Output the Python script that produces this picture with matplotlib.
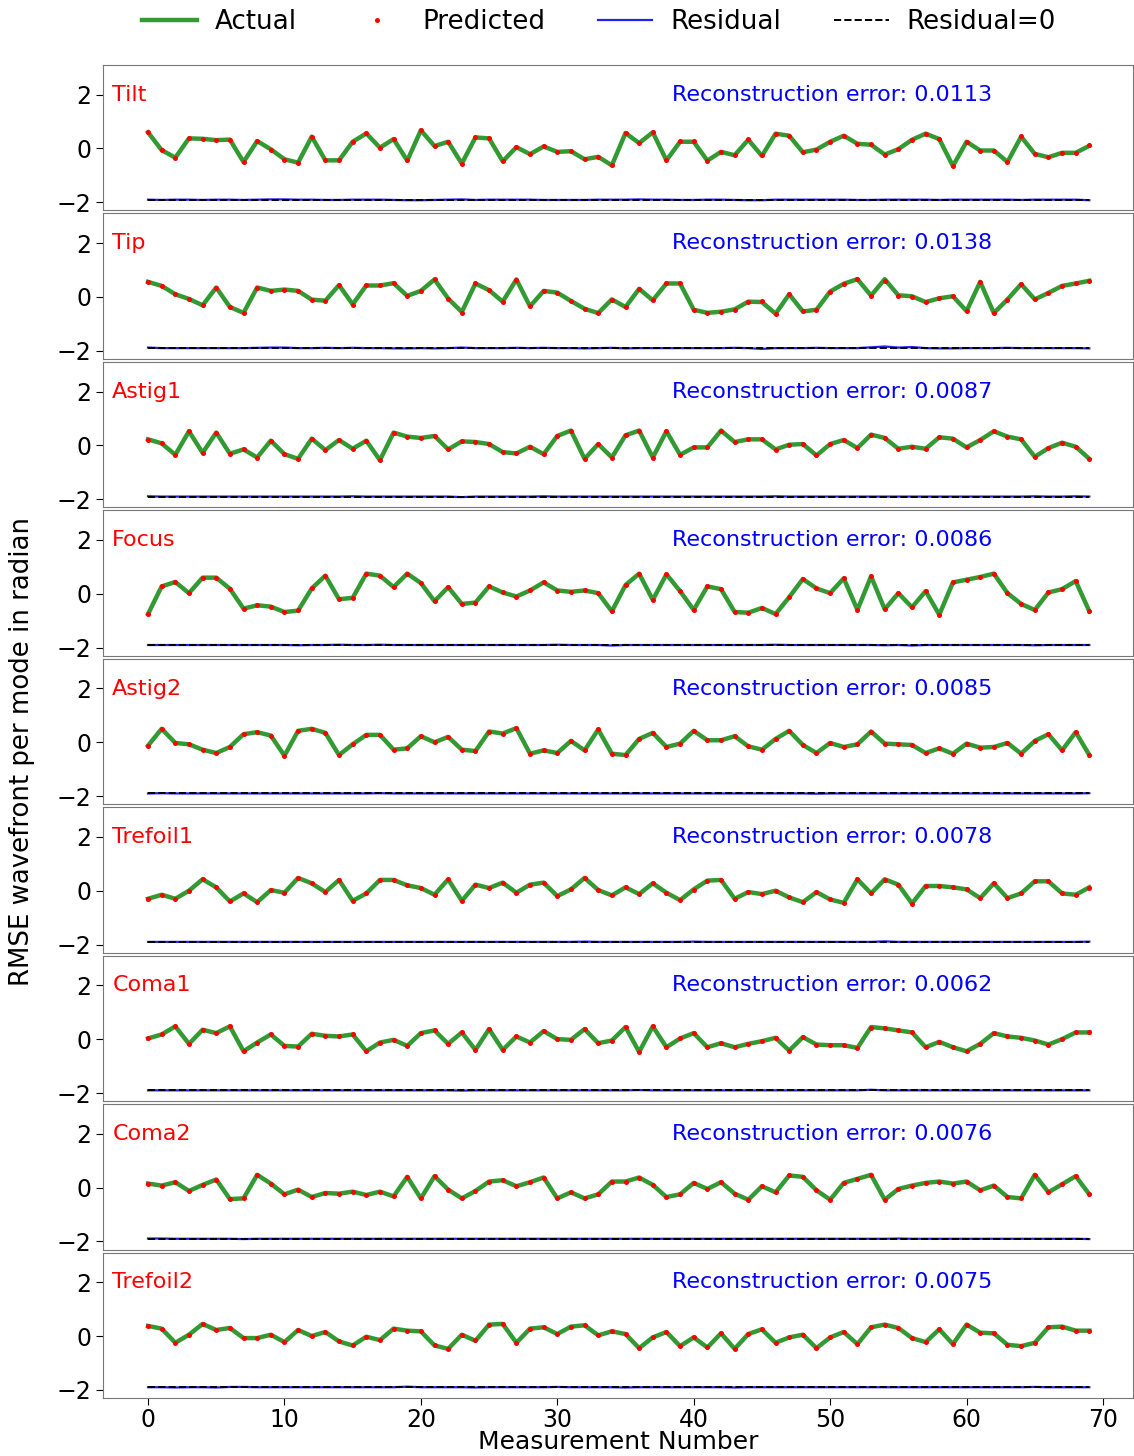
import matplotlib
matplotlib.use("Agg")
import matplotlib.pyplot as plt
from matplotlib.lines import Line2D
import numpy as np

modes = ["Tilt", "Tip", "Astig1", "Focus", "Astig2", "Trefoil1", "Coma1", "Coma2", "Trefoil2"]
errors = ["0.0113", "0.0138", "0.0087", "0.0086", "0.0085", "0.0078", "0.0062", "0.0076", "0.0075"]

tilt = [0.60, -0.06, -0.34, 0.375, 0.36, 0.31, 0.33, -0.5, 0.275, -0.03,
        -0.4, -0.525, 0.44, -0.44, -0.44, 0.25, 0.56, 0.03, 0.35, -0.45,
        0.675, 0.09, 0.25, -0.56, 0.41, 0.375, -0.475, 0.05, -0.21, 0.075,
        -0.125, -0.1, -0.4, -0.31, -0.625, 0.575, 0.2, 0.6, -0.44, 0.25,
        0.25, -0.45, -0.125, -0.25, 0.325, -0.275, 0.55, 0.475, -0.14, -0.04,
        0.25, 0.475, 0.175, 0.14, -0.225, -0.025, 0.325, 0.55, 0.35, -0.65,
        0.25, -0.075, -0.075, -0.5, 0.44, -0.2, -0.325, -0.16, -0.16, 0.1]
tip = [0.56, 0.41, 0.1, -0.075, -0.31, 0.35, -0.375, -0.59, 0.35, 0.225,
       0.275, 0.225, -0.1, -0.14, 0.44, -0.275, 0.425, 0.425, 0.51, 0.04,
       0.225, 0.65, -0.06, -0.56, 0.5, 0.25, -0.175, 0.65, -0.35, 0.225,
       0.16, -0.15, -0.44, -0.6, -0.09, -0.375, 0.3, -0.125, 0.5, 0.5,
       -0.475, -0.59, -0.55, -0.46, -0.175, -0.19, -0.625, 0.1, -0.54, -0.475,
       0.2, 0.49, 0.66, 0.05, 0.66, 0.06, 0.025, -0.19, -0.05, 0.025,
       -0.525, 0.56, -0.6, -0.09, 0.475, -0.09, 0.15, 0.41, 0.5, 0.6]
astig1 = [0.225, 0.075, -0.35, 0.525, -0.275, 0.475, -0.31, -0.15, -0.45, 0.175,
          -0.325, -0.5, 0.25, -0.175, 0.2, -0.125, 0.175, -0.55, 0.475, 0.325,
          0.275, 0.35, -0.15, 0.15, 0.125, 0.05, -0.25, -0.3, -0.05, -0.325,
          0.35, 0.55, -0.5, 0.05, -0.45, 0.375, 0.55, -0.45, 0.525, -0.35,
          -0.075, -0.075, 0.55, 0.125, 0.225, 0.225, -0.15, 0.025, 0.05, -0.375,
          0.05, 0.2, -0.1, 0.4, 0.275, -0.125, -0.05, -0.125, 0.3, 0.25,
          -0.075, 0.2, 0.525, 0.325, 0.225, -0.425, -0.1, 0.1, -0.05, -0.5]
focus = [-0.75, 0.275, 0.44, 0.025, 0.6, 0.6, 0.19, -0.55, -0.425, -0.475,
         -0.675, -0.625, 0.2, 0.675, -0.2, -0.15, 0.75, 0.675, 0.25, 0.75,
         0.4, -0.275, 0.25, -0.375, -0.325, 0.275, 0.05, -0.1, 0.125, 0.425,
         0.125, 0.075, 0.125, 0.025, -0.65, 0.325, 0.75, -0.225, 0.725, 0.1,
         -0.6, 0.275, 0.175, -0.675, -0.7, -0.525, -0.75, -0.125, 0.55, 0.2,
         0.025, 0.575, -0.6, 0.65, -0.575, 0.025, -0.5, 0.1, -0.775, 0.425,
         0.525, 0.625, 0.75, 0.025, -0.375, -0.6, 0.05, 0.175, 0.475, -0.65]
astig2 = [-0.125, 0.5, -0.025, -0.075, -0.275, -0.4, -0.175, 0.3, 0.375, 0.25,
          -0.5, 0.425, 0.5, 0.35, -0.475, -0.075, 0.275, 0.275, -0.275, -0.225,
          0.225, 0.0, 0.2, -0.275, -0.325, 0.4, 0.325, 0.525, -0.425, -0.3,
          -0.4, 0.05, -0.3, 0.475, -0.425, -0.475, 0.125, 0.35, -0.175, -0.05,
          0.425, 0.075, 0.075, 0.225, -0.15, -0.275, 0.125, 0.425, -0.1, -0.4,
          -0.025, -0.175, -0.075, 0.4, -0.05, -0.075, -0.1, -0.4, -0.225, -0.425,
          -0.05, -0.2, -0.175, -0.025, -0.425, 0.05, 0.3, -0.3, 0.375, -0.475]
trefoil1 = [-0.3, -0.15, -0.3, 0.0, 0.425, 0.125, -0.4, -0.1, -0.425, 0.025,
            -0.075, 0.475, 0.275, -0.05, 0.4, -0.375, -0.1, 0.4, 0.4, 0.2,
            0.1, -0.15, 0.425, -0.375, 0.225, 0.1, 0.3, -0.075, 0.225, 0.3,
            -0.2, 0.05, 0.475, 0.025, -0.175, 0.125, -0.125, 0.275, -0.075, -0.35,
            0.05, 0.375, 0.4, -0.3, -0.05, -0.125, 0.0, -0.25, -0.425, -0.05,
            -0.325, -0.45, 0.425, -0.1, 0.425, 0.225, -0.475, 0.175, 0.175, 0.125,
            0.05, -0.275, 0.275, -0.275, -0.1, 0.35, 0.35, -0.1, -0.15, 0.125]
coma1 = [0.025, 0.175, 0.475, -0.175, 0.35, 0.225, 0.475, -0.45, -0.125, 0.175,
         -0.25, -0.275, 0.2, 0.125, 0.1, 0.175, -0.45, -0.125, -0.025, -0.25,
         0.225, 0.325, -0.175, 0.25, -0.4, 0.375, -0.4, 0.1, -0.125, 0.3,
         0.0, -0.025, 0.375, -0.15, -0.05, 0.45, -0.475, 0.475, -0.3, 0.025,
         0.225, -0.3, -0.15, -0.3, -0.175, -0.075, 0.05, -0.425, 0.075, -0.2,
         -0.225, -0.225, -0.325, 0.45, 0.4, 0.325, 0.25, -0.3, -0.1, -0.3,
         -0.45, -0.175, 0.225, 0.1, 0.05, -0.05, -0.2, 0.0, 0.25, 0.25]
coma2 = [0.15, 0.075, 0.2, -0.125, 0.1, 0.3, -0.425, -0.4, 0.475, 0.15,
         -0.25, -0.075, -0.35, -0.2, -0.225, -0.15, -0.275, -0.15, -0.325, 0.4,
         -0.4, 0.425, -0.075, -0.4, -0.125, 0.225, 0.275, 0.05, 0.2, 0.375,
         -0.4, -0.175, -0.4, -0.25, 0.225, 0.225, 0.375, 0.1, -0.35, -0.25,
         0.175, -0.05, 0.2, -0.225, -0.45, 0.05, -0.175, 0.45, 0.4, -0.1,
         -0.45, 0.175, 0.325, 0.475, -0.45, -0.05, 0.075, 0.175, 0.225, 0.15,
         0.225, -0.1, 0.075, -0.35, -0.4, 0.475, -0.175, 0.125, 0.425, -0.25]
trefoil2 = [0.375, 0.275, -0.25, 0.05, 0.45, 0.225, 0.3, -0.075, -0.075, 0.05,
            -0.225, 0.225, 0.0, 0.15, -0.2, -0.35, -0.025, -0.15, 0.275, 0.2,
            0.175, -0.35, -0.475, 0.05, -0.175, 0.425, 0.45, -0.25, 0.275, 0.325,
            0.075, 0.35, 0.4, 0.025, 0.175, 0.075, -0.45, -0.05, 0.15, -0.375,
            -0.05, -0.425, 0.1, -0.475, 0.075, 0.25, -0.25, -0.05, 0.05, -0.45,
            -0.05, 0.15, -0.3, 0.325, 0.425, 0.3, -0.075, -0.225, 0.25, -0.3,
            0.425, 0.125, 0.1, -0.325, -0.375, -0.25, 0.325, 0.35, 0.2, 0.2]

# residual (actual - predicted), small
res_tilt = [0, -0.01, 0, 0, -0.01, 0, 0, -0.01, 0, 0.01,
            0.01, 0, 0, -0.01, -0.01, 0, 0, 0, -0.01, -0.02,
            -0.02, -0.01, 0, 0.01, -0.01, 0, 0, 0, 0, -0.01,
            -0.01, -0.01, -0.01, 0, 0, 0, 0.01, 0, 0, -0.01,
            -0.01, 0, 0, -0.01, -0.02, -0.02, 0, 0, 0, 0,
            0, 0, -0.01, -0.01, 0, 0, 0, 0, -0.01, 0,
            0, 0, 0, 0, -0.01, 0, 0, 0, 0, -0.02]
res_tip = [0.02, 0, 0, 0, 0, 0, 0, 0, 0.01, 0.02,
           0.02, 0, 0, 0.01, 0, 0.01, 0, 0, -0.01, -0.01,
           0, -0.01, 0, 0.02, 0, 0, 0, 0.01, 0, 0.01,
           0, 0, -0.01, 0, 0.01, -0.01, 0, 0, 0, 0,
           0, 0, 0, 0.01, 0, -0.03, 0, 0, 0, 0.01,
           0, 0, 0, 0.03, 0.06, 0.02, 0.04, 0, -0.01, -0.01,
           0, 0, 0, 0.01, 0, 0, 0, 0, 0, -0.01]
res_astig1 = [0.01, 0, 0, 0, 0, 0, 0, 0, 0, 0,
              0, 0, 0, 0, 0, 0.01, 0, 0, 0, 0,
              0, 0, 0, -0.02, 0, 0, 0, 0, 0, 0.01,
              0, 0, 0, 0, 0, 0, 0, 0, 0, 0,
              0, 0, 0, 0, 0, 0, 0.01, 0, 0, 0,
              0, 0, 0, 0, 0, 0, 0, 0, 0, 0,
              0, 0, 0, 0, 0, 0.01, 0, 0, 0.01, 0]
res_focus = [0, 0, 0, 0, 0, 0, 0, 0, 0, 0,
             0, -0.01, 0, 0, 0.01, 0, 0, 0.01, 0, 0,
             0, 0, 0, 0, 0, 0, 0, 0, 0, 0,
             0.01, 0, 0, 0, -0.02, 0, 0, 0, 0, 0,
             0, 0, 0, 0, 0, 0, 0.01, 0, 0, 0,
             0, 0, 0, 0, -0.01, 0, -0.02, 0, 0, 0,
             0, 0, 0, 0, 0, -0.01, 0, 0, 0, 0]
res_astig2 = [0, 0.01, 0, 0, 0, 0, 0, 0, 0, 0,
              0, 0, 0, 0, 0, 0, 0, 0.01, 0, 0,
              0, 0, 0, 0, 0, 0, 0, 0, 0, 0,
              0, 0, 0, 0, 0, 0, 0, 0, 0, 0,
              0, 0, 0, 0, 0, 0, 0, 0, 0, -0.01,
              0, 0, 0, 0, 0, 0, 0, 0, 0, 0,
              0, 0, 0, 0, 0, 0, 0, 0, 0, 0.01]
res_trefoil1 = [0, 0, 0, 0, 0, 0, 0, 0, 0, 0,
                0, 0, 0, 0, 0, 0, 0, 0, 0, 0,
                0, 0, 0, 0, 0, 0, 0, 0, 0, 0,
                0, 0, 0.01, 0, 0, 0, 0, 0, 0, 0,
                0.01, 0, 0, 0, 0, 0, 0, 0, 0, 0,
                0, 0, 0, 0, 0.02, 0, 0, 0, 0, 0,
                0, 0, 0, 0, 0, 0, 0, 0, 0, 0.01]
res_coma1 = [0, 0, 0, 0, 0, 0, 0, 0, 0, 0,
             0, 0, 0, 0, 0, 0, 0, 0, 0, 0,
             0, 0, 0, -0.01, 0, 0, 0, 0, 0, 0,
             0, 0, 0, 0, 0, 0, 0.01, 0, 0, 0,
             0, 0, 0, 0, 0, 0, 0, 0, 0, 0,
             0, 0, 0, 0.02, 0, 0, 0, 0, 0, 0,
             0, 0, 0, 0, 0, 0, 0, 0, 0, 0]
res_coma2 = [0.01, 0.01, 0, 0, 0, 0, 0, -0.01, 0, 0,
             0, 0, 0, 0, 0, 0, 0, 0, 0, 0,
             0, 0, 0, 0, 0, 0, 0, 0, 0, 0,
             0, 0, 0, 0, 0, 0, 0, 0, 0, 0,
             0, 0, 0, 0, 0, 0, 0, 0, 0, 0,
             0, 0, 0, 0, 0, 0.01, 0, 0, 0, 0,
             0, 0, 0, 0, 0, 0, 0, 0, 0, -0.01]
res_trefoil2 = [0, 0, -0.01, 0, 0, -0.01, 0.01, 0.01, 0, 0,
                0, 0, 0, 0, 0, 0, 0, 0, 0, 0.02,
                0, 0, 0, 0, -0.01, 0, 0, 0, 0, 0,
                0.01, 0, 0, 0, 0, -0.01, 0, 0, 0, 0,
                0, 0, 0, -0.01, 0, 0, 0, 0, 0, 0,
                0, 0, 0, 0, 0, 0, 0, 0, 0, 0,
                0, 0, 0, 0, 0, 0.01, 0, 0, 0, 0]

actuals = [tilt, tip, astig1, focus, astig2, trefoil1, coma1, coma2, trefoil2]
residuals = [res_tilt, res_tip, res_astig1, res_focus, res_astig2,
             res_trefoil1, res_coma1, res_coma2, res_trefoil2]

RES_OFFSET = -1.9

W, H = 1134, 1456
fig = plt.figure(figsize=(W / 100, H / 100), dpi=100)

left_px, right_px = 103, 1133
top_px, bot_px = 65, 1398
n = len(modes)
gap = 3
ph = (bot_px - top_px - gap * (n - 1)) / n

green = '#339a33'
blue = '#2222ee'
axes = []
for i in range(n):
    t = top_px + i * (ph + gap)
    ax = fig.add_axes([left_px / W, 1 - (t + ph) / H, (right_px - left_px) / W, ph / H])
    axes.append(ax)
    a = np.array(actuals[i])
    r = np.array(residuals[i])
    pred = a - r
    x = np.arange(len(a))
    ax.plot(x, a, color=green, lw=3.2, zorder=2)
    ax.plot(x, pred, 'o', color='red', ms=3.6, mec='none', zorder=3)
    ax.plot(x, RES_OFFSET + r, color=blue, lw=1.6, zorder=2)
    ax.plot(x, np.full(len(x), RES_OFFSET), color='black', ls='--', lw=1.4, zorder=3)
    ax.set_xlim(-3.3, 72.2)
    ax.set_ylim(-2.3, 3.1)
    ax.set_yticks([-2, 0, 2])
    ax.set_yticklabels(['\u22122', '0', '2'])
    ax.tick_params(axis='y', labelsize=17, length=5)
    for s in ax.spines.values():
        s.set_edgecolor('#777777')
    ax.text(0.009, 0.795, modes[i], transform=ax.transAxes, color='red',
            fontsize=16, va='center', ha='left')
    ax.text(0.552, 0.795, 'Reconstruction error: ' + errors[i], transform=ax.transAxes,
            color='blue', fontsize=16, va='center', ha='left')
    if i < n - 1:
        ax.set_xticks([])
    else:
        ax.set_xticks([0, 10, 20, 30, 40, 50, 60, 70])
        ax.tick_params(axis='x', labelsize=17, length=5, pad=2)
        ax.set_xlabel('Measurement Number', fontsize=18, labelpad=-1)

fig.text(22 / W, 1 - 751 / H, 'RMSE wavefront per mode in radian',
         rotation=90, va='center', ha='center', fontsize=18.7)

handles = [Line2D([], [], color=green, lw=3.2),
           Line2D([], [], marker='o', color='red', ls='none', ms=3.6, mec='none'),
           Line2D([], [], color=blue, lw=1.6),
           Line2D([], [], color='black', ls='--', lw=1.4)]
labels = ['Actual', 'Predicted', 'Residual', 'Residual=0']
fig.legend(handles, labels, loc='center', bbox_to_anchor=(599 / W, 1 - 22 / H),
           ncol=4, frameon=False, fontsize=18.8, handlelength=2.1,
           handletextpad=0.7, columnspacing=2.0)

fig.savefig('out.png', dpi=100)
